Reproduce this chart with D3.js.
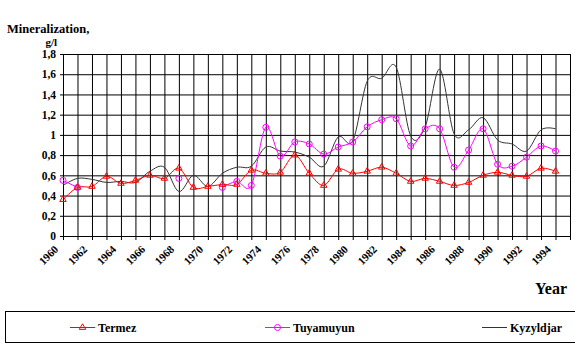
<!DOCTYPE html>
<html>
<head>
<meta charset="utf-8">
<script src="https://cdn.jsdelivr.net/npm/d3@7"></script>
<style>
  body { margin: 0; background: #fff; }
  svg { display: block; }
  text { font-family: "Liberation Serif", "DejaVu Serif", serif; font-weight: bold; fill: #000; }
</style>
</head>
<body>
<svg id="chart" width="575" height="350"></svg>
<script>
var years = [1960, 1961, 1962, 1963, 1964, 1965, 1966, 1967, 1968, 1969,
             1970, 1971, 1972, 1973, 1974, 1975, 1976, 1977, 1978, 1979,
             1980, 1981, 1982, 1983, 1984, 1985, 1986, 1987, 1988, 1989,
             1990, 1991, 1992, 1993, 1994];
var yearLabels = ['1960', '1962', '1964', '1966', '1968', '1970', '1972', '1974', '1976',
                  '1978', '1980', '1982', '1984', '1986', '1988', '1990', '1992', '1994'];
var yTicks = [0, 0.2, 0.4, 0.6, 0.8, 1, 1.2, 1.4, 1.6, 1.8];

var termez = [0.36, 0.48, 0.49, 0.59, 0.52, 0.55, 0.60, 0.57, 0.67, 0.48,
              0.49, 0.51, 0.51, 0.65, 0.62, 0.63, 0.80, 0.62, 0.50, 0.66,
              0.62, 0.64, 0.68, 0.62, 0.54, 0.57, 0.54, 0.50, 0.53, 0.60,
              0.63, 0.60, 0.59, 0.67, 0.64];
var tuyamuyun = [0.55, 0.48, null, null, null, null, null, null, 0.57, null,
                 null, 0.48, 0.54, 0.50, 1.075, 0.79, 0.93, 0.91, 0.81, 0.88,
                 0.93, 1.08, 1.15, 1.16, 0.89, 1.06, 1.06, 0.68, 0.85, 1.06,
                 0.71, 0.69, 0.78, 0.89, 0.84];
var kyzyldjar = [0.50, 0.57, 0.56, 0.53, 0.54, 0.53, 0.64, 0.68, 0.44, 0.60,
                 0.49, 0.62, 0.68, 0.69, 0.88, 0.84, 0.83, 0.78, 0.69, 0.98,
                 0.94, 1.53, 1.56, 1.67, 0.99, 1.08, 1.65, 1.01, 1.05, 1.17,
                 0.95, 0.91, 0.84, 1.05, 1.06];

(function(){
    var svg = d3.select('#chart'),
        pL = 63, pR = 570, pT = 54, pB = 236;

    var x = d3.scaleLinear().domain([1960, 1995]).range([pL, pR]),
        y = d3.scaleLinear().domain([0, 1.8]).range([pB, pT]);

    var fmt = function(v){ return String(+v.toFixed(1)).replace('.', ','); };

    // horizontal grid + y ticks
    svg.append('g')
        .attr('transform', 'translate(' + pL + ',0)')
        .call(d3.axisLeft(y).tickValues(yTicks).tickSizeInner(-(pR - pL)).tickSizeOuter(0).tickPadding(7).tickFormat(fmt))
        .call(function(g){
            g.attr('font-family', null);
            g.select('.domain').remove();
            g.selectAll('.tick line').attr('x1', -3).attr('stroke', '#000');
            g.selectAll('.tick text').attr('font-size', 11.5);
        });

    // vertical grid + x ticks
    var xAxisValues = years.concat([1995]);
    svg.append('g')
        .attr('transform', 'translate(0,' + pB + ')')
        .call(d3.axisBottom(x).tickValues(xAxisValues).tickSizeInner(-(pB - pT)).tickSizeOuter(0).tickFormat(''))
        .call(function(g){
            g.select('.domain').attr('stroke', '#000');
            g.selectAll('.tick line').attr('y1', 4).attr('stroke', '#000');
        });

    // rotated year labels
    svg.append('g').selectAll('text')
        .data(yearLabels)
        .join('text')
        .attr('transform', function(d){ return 'translate(' + (x(+d) - 4) + ',' + (pB + 14) + ') rotate(-45)'; })
        .attr('text-anchor', 'end')
        .attr('font-size', 11)
        .text(function(d){ return d; });

    // series
    var line = d3.line()
        .defined(function(d){ return d[1] !== null; })
        .x(function(d){ return x(d[0]); })
        .y(function(d){ return y(d[1]); })
        .curve(d3.curveCardinal.tension(0));

    function pairs(vals){ return years.map(function(yr, i){ return [yr, vals[i]]; }); }

    svg.append('path').datum(pairs(kyzyldjar))
        .attr('d', line).attr('fill', 'none').attr('stroke', '#333').attr('stroke-width', 1);

    svg.append('path').datum(pairs(tuyamuyun))
        .attr('d', line).attr('fill', 'none').attr('stroke', '#ff00ff').attr('stroke-width', 1);

    svg.append('path').datum(pairs(termez))
        .attr('d', line).attr('fill', 'none').attr('stroke', '#ff0000').attr('stroke-width', 1);

    var tri = d3.symbol().type(d3.symbolTriangle).size(18);

    svg.append('g').selectAll('circle')
        .data(pairs(tuyamuyun).filter(function(d){ return d[1] !== null; }))
        .join('circle')
        .attr('cx', function(d){ return x(d[0]); })
        .attr('cy', function(d){ return y(d[1]); })
        .attr('r', 3)
        .attr('fill', 'none').attr('stroke', '#ff00ff');

    svg.append('g').selectAll('path')
        .data(pairs(termez))
        .join('path')
        .attr('d', tri)
        .attr('transform', function(d){ return 'translate(' + x(d[0]) + ',' + y(d[1]) + ')'; })
        .attr('fill', 'none').attr('stroke', '#ff0000');

    // titles
    svg.append('text').attr('x', 7).attr('y', 33).attr('font-size', 12.5).text('Mineralization,');
    svg.append('text').attr('x', 57).attr('y', 46).attr('text-anchor', 'end').attr('font-size', 11).text('g/l');
    svg.append('text').attr('x', 567).attr('y', 294).attr('text-anchor', 'end').attr('font-size', 16).text('Year');

    // legend
    var legend = svg.append('g');
    legend.append('rect')
        .attr('x', 5.5).attr('y', 311.5).attr('width', 600).attr('height', 31)
        .attr('fill', 'none').attr('stroke', '#000');

    var items = [
        { name: 'Termez', color: '#ff0000', x0: 70, mark: 'tri' },
        { name: 'Tuyamuyun', color: '#ff00ff', x0: 265, mark: 'circle' },
        { name: 'Kyzyldjar', color: '#333', x0: 482, mark: null }
    ];
    var ly = 327.5;
    items.forEach(function(it){
        legend.append('line')
            .attr('x1', it.x0).attr('x2', it.x0 + 25).attr('y1', ly).attr('y2', ly)
            .attr('stroke', it.color);
        if ( it.mark === 'tri' ){
            legend.append('path').attr('d', tri)
                .attr('transform', 'translate(' + (it.x0 + 12.5) + ',' + ly + ')')
                .attr('fill', 'none').attr('stroke', it.color);
        } else if ( it.mark === 'circle' ){
            legend.append('circle').attr('cx', it.x0 + 12.5).attr('cy', ly).attr('r', 3)
                .attr('fill', 'none').attr('stroke', it.color);
        }
        legend.append('text')
            .attr('x', it.x0 + 28).attr('y', ly + 4)
            .attr('font-size', 12)
            .text(it.name);
    });
})();
</script>
</body>
</html>
